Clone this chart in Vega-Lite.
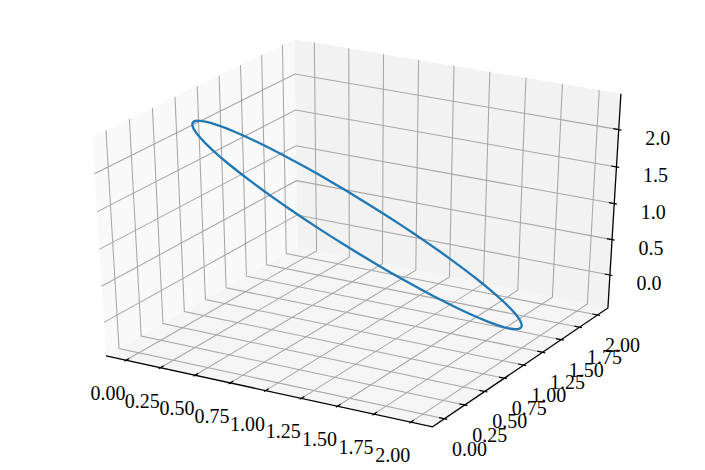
{
  "$schema": "https://vega.github.io/schema/vega-lite/v6.json",
  "width": 705,
  "height": 470,
  "padding": 0,
  "autosize": {"type": "none"},
  "background": "white",
  "config": {"view": {"stroke": null}},
  "data": {"values": [
    {"k":"pz","o":0,"x":-0.1458,"y":-0.1458,"z":-0.4731},{"k":"pz","o":1,"x":2.1458,"y":-0.1458,"z":-0.4731},{"k":"pz","o":2,"x":2.1458,"y":2.1458,"z":-0.4731},{"k":"pz","o":3,"x":-0.1458,"y":2.1458,"z":-0.4731},
    {"k":"px","o":0,"x":-0.1458,"y":-0.1458,"z":-0.4731},{"k":"px","o":1,"x":-0.1458,"y":2.1458,"z":-0.4731},{"k":"px","o":2,"x":-0.1458,"y":2.1458,"z":2.4731},{"k":"px","o":3,"x":-0.1458,"y":-0.1458,"z":2.4731},
    {"k":"py","o":0,"x":-0.1458,"y":2.1458,"z":-0.4731},{"k":"py","o":1,"x":2.1458,"y":2.1458,"z":-0.4731},{"k":"py","o":2,"x":2.1458,"y":2.1458,"z":2.4731},{"k":"py","o":3,"x":-0.1458,"y":2.1458,"z":2.4731},

    {"k":"g","g":"gx0","o":0,"x":0,"y":-0.1458,"z":-0.4731},{"k":"g","g":"gx0","o":1,"x":0,"y":2.1458,"z":-0.4731},{"k":"g","g":"gx0","o":2,"x":0,"y":2.1458,"z":2.4731},
    {"k":"g","g":"gx1","o":0,"x":0.25,"y":-0.1458,"z":-0.4731},{"k":"g","g":"gx1","o":1,"x":0.25,"y":2.1458,"z":-0.4731},{"k":"g","g":"gx1","o":2,"x":0.25,"y":2.1458,"z":2.4731},
    {"k":"g","g":"gx2","o":0,"x":0.5,"y":-0.1458,"z":-0.4731},{"k":"g","g":"gx2","o":1,"x":0.5,"y":2.1458,"z":-0.4731},{"k":"g","g":"gx2","o":2,"x":0.5,"y":2.1458,"z":2.4731},
    {"k":"g","g":"gx3","o":0,"x":0.75,"y":-0.1458,"z":-0.4731},{"k":"g","g":"gx3","o":1,"x":0.75,"y":2.1458,"z":-0.4731},{"k":"g","g":"gx3","o":2,"x":0.75,"y":2.1458,"z":2.4731},
    {"k":"g","g":"gx4","o":0,"x":1,"y":-0.1458,"z":-0.4731},{"k":"g","g":"gx4","o":1,"x":1,"y":2.1458,"z":-0.4731},{"k":"g","g":"gx4","o":2,"x":1,"y":2.1458,"z":2.4731},
    {"k":"g","g":"gx5","o":0,"x":1.25,"y":-0.1458,"z":-0.4731},{"k":"g","g":"gx5","o":1,"x":1.25,"y":2.1458,"z":-0.4731},{"k":"g","g":"gx5","o":2,"x":1.25,"y":2.1458,"z":2.4731},
    {"k":"g","g":"gx6","o":0,"x":1.5,"y":-0.1458,"z":-0.4731},{"k":"g","g":"gx6","o":1,"x":1.5,"y":2.1458,"z":-0.4731},{"k":"g","g":"gx6","o":2,"x":1.5,"y":2.1458,"z":2.4731},
    {"k":"g","g":"gx7","o":0,"x":1.75,"y":-0.1458,"z":-0.4731},{"k":"g","g":"gx7","o":1,"x":1.75,"y":2.1458,"z":-0.4731},{"k":"g","g":"gx7","o":2,"x":1.75,"y":2.1458,"z":2.4731},
    {"k":"g","g":"gx8","o":0,"x":2,"y":-0.1458,"z":-0.4731},{"k":"g","g":"gx8","o":1,"x":2,"y":2.1458,"z":-0.4731},{"k":"g","g":"gx8","o":2,"x":2,"y":2.1458,"z":2.4731},

    {"k":"g","g":"gy0","o":0,"x":2.1458,"y":0,"z":-0.4731},{"k":"g","g":"gy0","o":1,"x":-0.1458,"y":0,"z":-0.4731},{"k":"g","g":"gy0","o":2,"x":-0.1458,"y":0,"z":2.4731},
    {"k":"g","g":"gy1","o":0,"x":2.1458,"y":0.25,"z":-0.4731},{"k":"g","g":"gy1","o":1,"x":-0.1458,"y":0.25,"z":-0.4731},{"k":"g","g":"gy1","o":2,"x":-0.1458,"y":0.25,"z":2.4731},
    {"k":"g","g":"gy2","o":0,"x":2.1458,"y":0.5,"z":-0.4731},{"k":"g","g":"gy2","o":1,"x":-0.1458,"y":0.5,"z":-0.4731},{"k":"g","g":"gy2","o":2,"x":-0.1458,"y":0.5,"z":2.4731},
    {"k":"g","g":"gy3","o":0,"x":2.1458,"y":0.75,"z":-0.4731},{"k":"g","g":"gy3","o":1,"x":-0.1458,"y":0.75,"z":-0.4731},{"k":"g","g":"gy3","o":2,"x":-0.1458,"y":0.75,"z":2.4731},
    {"k":"g","g":"gy4","o":0,"x":2.1458,"y":1,"z":-0.4731},{"k":"g","g":"gy4","o":1,"x":-0.1458,"y":1,"z":-0.4731},{"k":"g","g":"gy4","o":2,"x":-0.1458,"y":1,"z":2.4731},
    {"k":"g","g":"gy5","o":0,"x":2.1458,"y":1.25,"z":-0.4731},{"k":"g","g":"gy5","o":1,"x":-0.1458,"y":1.25,"z":-0.4731},{"k":"g","g":"gy5","o":2,"x":-0.1458,"y":1.25,"z":2.4731},
    {"k":"g","g":"gy6","o":0,"x":2.1458,"y":1.5,"z":-0.4731},{"k":"g","g":"gy6","o":1,"x":-0.1458,"y":1.5,"z":-0.4731},{"k":"g","g":"gy6","o":2,"x":-0.1458,"y":1.5,"z":2.4731},
    {"k":"g","g":"gy7","o":0,"x":2.1458,"y":1.75,"z":-0.4731},{"k":"g","g":"gy7","o":1,"x":-0.1458,"y":1.75,"z":-0.4731},{"k":"g","g":"gy7","o":2,"x":-0.1458,"y":1.75,"z":2.4731},
    {"k":"g","g":"gy8","o":0,"x":2.1458,"y":2,"z":-0.4731},{"k":"g","g":"gy8","o":1,"x":-0.1458,"y":2,"z":-0.4731},{"k":"g","g":"gy8","o":2,"x":-0.1458,"y":2,"z":2.4731},

    {"k":"g","g":"gz0","o":0,"x":-0.1458,"y":-0.1458,"z":0},{"k":"g","g":"gz0","o":1,"x":-0.1458,"y":2.1458,"z":0},{"k":"g","g":"gz0","o":2,"x":2.1458,"y":2.1458,"z":0},
    {"k":"g","g":"gz1","o":0,"x":-0.1458,"y":-0.1458,"z":0.5},{"k":"g","g":"gz1","o":1,"x":-0.1458,"y":2.1458,"z":0.5},{"k":"g","g":"gz1","o":2,"x":2.1458,"y":2.1458,"z":0.5},
    {"k":"g","g":"gz2","o":0,"x":-0.1458,"y":-0.1458,"z":1},{"k":"g","g":"gz2","o":1,"x":-0.1458,"y":2.1458,"z":1},{"k":"g","g":"gz2","o":2,"x":2.1458,"y":2.1458,"z":1},
    {"k":"g","g":"gz3","o":0,"x":-0.1458,"y":-0.1458,"z":1.5},{"k":"g","g":"gz3","o":1,"x":-0.1458,"y":2.1458,"z":1.5},{"k":"g","g":"gz3","o":2,"x":2.1458,"y":2.1458,"z":1.5},
    {"k":"g","g":"gz4","o":0,"x":-0.1458,"y":-0.1458,"z":2},{"k":"g","g":"gz4","o":1,"x":-0.1458,"y":2.1458,"z":2},{"k":"g","g":"gz4","o":2,"x":2.1458,"y":2.1458,"z":2},

    {"k":"a","o":0,"x":-0.1458,"y":-0.1458,"z":-0.4731},{"k":"a","o":1,"x":2.1458,"y":-0.1458,"z":-0.4731},{"k":"a","o":2,"x":2.1458,"y":2.1458,"z":-0.4731},{"k":"a","o":3,"x":2.1458,"y":2.1458,"z":2.4731},

    {"k":"t","g":"tx0","o":0,"x":0,"y":-0.1641,"z":-0.4731},{"k":"t","g":"tx0","o":1,"x":0,"y":-0.1091,"z":-0.4731},
    {"k":"t","g":"tx1","o":0,"x":0.25,"y":-0.1641,"z":-0.4731},{"k":"t","g":"tx1","o":1,"x":0.25,"y":-0.1091,"z":-0.4731},
    {"k":"t","g":"tx2","o":0,"x":0.5,"y":-0.1641,"z":-0.4731},{"k":"t","g":"tx2","o":1,"x":0.5,"y":-0.1091,"z":-0.4731},
    {"k":"t","g":"tx3","o":0,"x":0.75,"y":-0.1641,"z":-0.4731},{"k":"t","g":"tx3","o":1,"x":0.75,"y":-0.1091,"z":-0.4731},
    {"k":"t","g":"tx4","o":0,"x":1,"y":-0.1641,"z":-0.4731},{"k":"t","g":"tx4","o":1,"x":1,"y":-0.1091,"z":-0.4731},
    {"k":"t","g":"tx5","o":0,"x":1.25,"y":-0.1641,"z":-0.4731},{"k":"t","g":"tx5","o":1,"x":1.25,"y":-0.1091,"z":-0.4731},
    {"k":"t","g":"tx6","o":0,"x":1.5,"y":-0.1641,"z":-0.4731},{"k":"t","g":"tx6","o":1,"x":1.5,"y":-0.1091,"z":-0.4731},
    {"k":"t","g":"tx7","o":0,"x":1.75,"y":-0.1641,"z":-0.4731},{"k":"t","g":"tx7","o":1,"x":1.75,"y":-0.1091,"z":-0.4731},
    {"k":"t","g":"tx8","o":0,"x":2,"y":-0.1641,"z":-0.4731},{"k":"t","g":"tx8","o":1,"x":2,"y":-0.1091,"z":-0.4731},
    {"k":"t","g":"ty0","o":0,"x":2.1641,"y":0,"z":-0.4731},{"k":"t","g":"ty0","o":1,"x":2.1091,"y":0,"z":-0.4731},
    {"k":"t","g":"ty1","o":0,"x":2.1641,"y":0.25,"z":-0.4731},{"k":"t","g":"ty1","o":1,"x":2.1091,"y":0.25,"z":-0.4731},
    {"k":"t","g":"ty2","o":0,"x":2.1641,"y":0.5,"z":-0.4731},{"k":"t","g":"ty2","o":1,"x":2.1091,"y":0.5,"z":-0.4731},
    {"k":"t","g":"ty3","o":0,"x":2.1641,"y":0.75,"z":-0.4731},{"k":"t","g":"ty3","o":1,"x":2.1091,"y":0.75,"z":-0.4731},
    {"k":"t","g":"ty4","o":0,"x":2.1641,"y":1,"z":-0.4731},{"k":"t","g":"ty4","o":1,"x":2.1091,"y":1,"z":-0.4731},
    {"k":"t","g":"ty5","o":0,"x":2.1641,"y":1.25,"z":-0.4731},{"k":"t","g":"ty5","o":1,"x":2.1091,"y":1.25,"z":-0.4731},
    {"k":"t","g":"ty6","o":0,"x":2.1641,"y":1.5,"z":-0.4731},{"k":"t","g":"ty6","o":1,"x":2.1091,"y":1.5,"z":-0.4731},
    {"k":"t","g":"ty7","o":0,"x":2.1641,"y":1.75,"z":-0.4731},{"k":"t","g":"ty7","o":1,"x":2.1091,"y":1.75,"z":-0.4731},
    {"k":"t","g":"ty8","o":0,"x":2.1641,"y":2,"z":-0.4731},{"k":"t","g":"ty8","o":1,"x":2.1091,"y":2,"z":-0.4731},
    {"k":"t","g":"tz0","o":0,"x":2.1641,"y":2.1458,"z":0},{"k":"t","g":"tz0","o":1,"x":2.1091,"y":2.1458,"z":0},
    {"k":"t","g":"tz1","o":0,"x":2.1641,"y":2.1458,"z":0.5},{"k":"t","g":"tz1","o":1,"x":2.1091,"y":2.1458,"z":0.5},
    {"k":"t","g":"tz2","o":0,"x":2.1641,"y":2.1458,"z":1},{"k":"t","g":"tz2","o":1,"x":2.1091,"y":2.1458,"z":1},
    {"k":"t","g":"tz3","o":0,"x":2.1641,"y":2.1458,"z":1.5},{"k":"t","g":"tz3","o":1,"x":2.1091,"y":2.1458,"z":1.5},
    {"k":"t","g":"tz4","o":0,"x":2.1641,"y":2.1458,"z":2},{"k":"t","g":"tz4","o":1,"x":2.1091,"y":2.1458,"z":2},

    {"k":"lx","x":0,"y":-0.1458,"z":-0.4731,"s":"0.00"},{"k":"lx","x":0.25,"y":-0.1458,"z":-0.4731,"s":"0.25"},{"k":"lx","x":0.5,"y":-0.1458,"z":-0.4731,"s":"0.50"},{"k":"lx","x":0.75,"y":-0.1458,"z":-0.4731,"s":"0.75"},{"k":"lx","x":1,"y":-0.1458,"z":-0.4731,"s":"1.00"},{"k":"lx","x":1.25,"y":-0.1458,"z":-0.4731,"s":"1.25"},{"k":"lx","x":1.5,"y":-0.1458,"z":-0.4731,"s":"1.50"},{"k":"lx","x":1.75,"y":-0.1458,"z":-0.4731,"s":"1.75"},{"k":"lx","x":2,"y":-0.1458,"z":-0.4731,"s":"2.00"},
    {"k":"ly","x":2.1458,"y":0,"z":-0.4731,"s":"0.00"},{"k":"ly","x":2.1458,"y":0.25,"z":-0.4731,"s":"0.25"},{"k":"ly","x":2.1458,"y":0.5,"z":-0.4731,"s":"0.50"},{"k":"ly","x":2.1458,"y":0.75,"z":-0.4731,"s":"0.75"},{"k":"ly","x":2.1458,"y":1,"z":-0.4731,"s":"1.00"},{"k":"ly","x":2.1458,"y":1.25,"z":-0.4731,"s":"1.25"},{"k":"ly","x":2.1458,"y":1.5,"z":-0.4731,"s":"1.50"},{"k":"ly","x":2.1458,"y":1.75,"z":-0.4731,"s":"1.75"},{"k":"ly","x":2.1458,"y":2,"z":-0.4731,"s":"2.00"},
    {"k":"lz","x":2.1458,"y":2.1458,"z":0,"s":"0.0"},{"k":"lz","x":2.1458,"y":2.1458,"z":0.5,"s":"0.5"},{"k":"lz","x":2.1458,"y":2.1458,"z":1,"s":"1.0"},{"k":"lz","x":2.1458,"y":2.1458,"z":1.5,"s":"1.5"},{"k":"lz","x":2.1458,"y":2.1458,"z":2,"s":"2.0"},

    {"k":"c","o":0,"x":2,"y":1,"z":0},{"k":"c","o":1,"x":1.9962,"y":1.0872,"z":-0.0834},{"k":"c","o":2,"x":1.9848,"y":1.1736,"z":-0.1584},{"k":"c","o":3,"x":1.9659,"y":1.2588,"z":-0.2247},{"k":"c","o":4,"x":1.9397,"y":1.342,"z":-0.2817},{"k":"c","o":5,"x":1.9063,"y":1.4226,"z":-0.3289},{"k":"c","o":6,"x":1.866,"y":1.5,"z":-0.366},{"k":"c","o":7,"x":1.8192,"y":1.5736,"z":-0.3928},{"k":"c","o":8,"x":1.766,"y":1.6428,"z":-0.4088},{"k":"c","o":9,"x":1.7071,"y":1.7071,"z":-0.4142},
    {"k":"c","o":10,"x":1.6428,"y":1.766,"z":-0.4088},{"k":"c","o":11,"x":1.5736,"y":1.8192,"z":-0.3928},{"k":"c","o":12,"x":1.5,"y":1.866,"z":-0.366},{"k":"c","o":13,"x":1.4226,"y":1.9063,"z":-0.3289},{"k":"c","o":14,"x":1.342,"y":1.9397,"z":-0.2817},{"k":"c","o":15,"x":1.2588,"y":1.9659,"z":-0.2247},{"k":"c","o":16,"x":1.1736,"y":1.9848,"z":-0.1584},{"k":"c","o":17,"x":1.0872,"y":1.9962,"z":-0.0834},{"k":"c","o":18,"x":1,"y":2,"z":0},
    {"k":"c","o":19,"x":0.9128,"y":1.9962,"z":0.091},{"k":"c","o":20,"x":0.8264,"y":1.9848,"z":0.1888},{"k":"c","o":21,"x":0.7412,"y":1.9659,"z":0.2929},{"k":"c","o":22,"x":0.658,"y":1.9397,"z":0.4023},{"k":"c","o":23,"x":0.5774,"y":1.9063,"z":0.5163},{"k":"c","o":24,"x":0.5,"y":1.866,"z":0.634},{"k":"c","o":25,"x":0.4264,"y":1.8192,"z":0.7544},{"k":"c","o":26,"x":0.3572,"y":1.766,"z":0.8768},{"k":"c","o":27,"x":0.2929,"y":1.7071,"z":1},
    {"k":"c","o":28,"x":0.234,"y":1.6428,"z":1.1232},{"k":"c","o":29,"x":0.1808,"y":1.5736,"z":1.2456},{"k":"c","o":30,"x":0.134,"y":1.5,"z":1.366},{"k":"c","o":31,"x":0.0937,"y":1.4226,"z":1.4837},{"k":"c","o":32,"x":0.0603,"y":1.342,"z":1.5977},{"k":"c","o":33,"x":0.0341,"y":1.2588,"z":1.7071},{"k":"c","o":34,"x":0.0152,"y":1.1736,"z":1.8112},{"k":"c","o":35,"x":0.0038,"y":1.0872,"z":1.909},{"k":"c","o":36,"x":0,"y":1,"z":2},
    {"k":"c","o":37,"x":0.0038,"y":0.9128,"z":2.0834},{"k":"c","o":38,"x":0.0152,"y":0.8264,"z":2.1584},{"k":"c","o":39,"x":0.0341,"y":0.7412,"z":2.2247},{"k":"c","o":40,"x":0.0603,"y":0.658,"z":2.2817},{"k":"c","o":41,"x":0.0937,"y":0.5774,"z":2.3289},{"k":"c","o":42,"x":0.134,"y":0.5,"z":2.366},{"k":"c","o":43,"x":0.1808,"y":0.4264,"z":2.3928},{"k":"c","o":44,"x":0.234,"y":0.3572,"z":2.4088},{"k":"c","o":45,"x":0.2929,"y":0.2929,"z":2.4142},
    {"k":"c","o":46,"x":0.3572,"y":0.234,"z":2.4088},{"k":"c","o":47,"x":0.4264,"y":0.1808,"z":2.3928},{"k":"c","o":48,"x":0.5,"y":0.134,"z":2.366},{"k":"c","o":49,"x":0.5774,"y":0.0937,"z":2.3289},{"k":"c","o":50,"x":0.658,"y":0.0603,"z":2.2817},{"k":"c","o":51,"x":0.7412,"y":0.0341,"z":2.2247},{"k":"c","o":52,"x":0.8264,"y":0.0152,"z":2.1584},{"k":"c","o":53,"x":0.9128,"y":0.0038,"z":2.0834},{"k":"c","o":54,"x":1,"y":0,"z":2},
    {"k":"c","o":55,"x":1.0872,"y":0.0038,"z":1.909},{"k":"c","o":56,"x":1.1736,"y":0.0152,"z":1.8112},{"k":"c","o":57,"x":1.2588,"y":0.0341,"z":1.7071},{"k":"c","o":58,"x":1.342,"y":0.0603,"z":1.5977},{"k":"c","o":59,"x":1.4226,"y":0.0937,"z":1.4837},{"k":"c","o":60,"x":1.5,"y":0.134,"z":1.366},{"k":"c","o":61,"x":1.5736,"y":0.1808,"z":1.2456},{"k":"c","o":62,"x":1.6428,"y":0.234,"z":1.1232},{"k":"c","o":63,"x":1.7071,"y":0.2929,"z":1},
    {"k":"c","o":64,"x":1.766,"y":0.3572,"z":0.8768},{"k":"c","o":65,"x":1.8192,"y":0.4264,"z":0.7544},{"k":"c","o":66,"x":1.866,"y":0.5,"z":0.634},{"k":"c","o":67,"x":1.9063,"y":0.5774,"z":0.5163},{"k":"c","o":68,"x":1.9397,"y":0.658,"z":0.4023},{"k":"c","o":69,"x":1.9659,"y":0.7412,"z":0.2929},{"k":"c","o":70,"x":1.9848,"y":0.8264,"z":0.1888},{"k":"c","o":71,"x":1.9962,"y":0.9128,"z":0.091},{"k":"c","o":72,"x":2,"y":1,"z":0}
  ]},
  "transform": [
    {"calculate": "(datum.x - 1) / 2.2", "as": "dx"},
    {"calculate": "(datum.y - 1) / 2.2", "as": "dy"},
    {"calculate": "(datum.z - 1) / 2.8284", "as": "dz"},
    {"calculate": "10 - (0.4330127 * datum.dx - 0.75 * datum.dy + 0.5 * datum.dz)", "as": "den"},
    {"calculate": "(0.8660254 * datum.dx + 0.5 * datum.dy) / datum.den", "as": "sx"},
    {"calculate": "(-0.25 * datum.dx + 0.4330127 * datum.dy + 0.8660254 * datum.dz) / datum.den", "as": "sy"}
  ],
  "encoding": {
    "x": {"field": "sx", "type": "quantitative", "scale": {"domain": [-0.09977, 0.09507], "nice": false, "zero": false}, "axis": null},
    "y": {"field": "sy", "type": "quantitative", "scale": {"domain": [-0.10163, 0.09421], "nice": false, "zero": false}, "axis": null}
  },
  "layer": [
    {"transform": [{"filter": "datum.k == 'pz'"}], "mark": {"type": "line", "interpolate": "linear-closed", "fill": "#f5f5f5", "stroke": "transparent", "strokeWidth": 0}, "encoding": {"order": {"field": "o", "type": "quantitative"}}},
    {"transform": [{"filter": "datum.k == 'px'"}], "mark": {"type": "line", "interpolate": "linear-closed", "fill": "#f9f9f9", "stroke": "transparent", "strokeWidth": 0}, "encoding": {"order": {"field": "o", "type": "quantitative"}}},
    {"transform": [{"filter": "datum.k == 'py'"}], "mark": {"type": "line", "interpolate": "linear-closed", "fill": "#f2f2f2", "stroke": "transparent", "strokeWidth": 0}, "encoding": {"order": {"field": "o", "type": "quantitative"}}},
    {"transform": [{"filter": "datum.k == 'g'"}], "mark": {"type": "line", "color": "#a6a6a6", "strokeWidth": 1.05}, "encoding": {"detail": {"field": "g"}, "order": {"field": "o", "type": "quantitative"}}},
    {"transform": [{"filter": "datum.k == 'a'"}], "mark": {"type": "line", "color": "black", "strokeWidth": 1.3}, "encoding": {"order": {"field": "o", "type": "quantitative"}}},
    {"transform": [{"filter": "datum.k == 't'"}], "mark": {"type": "line", "color": "black", "strokeWidth": 1.2}, "encoding": {"detail": {"field": "g"}, "order": {"field": "o", "type": "quantitative"}}},
    {"transform": [{"filter": "datum.k == 'c'"}], "mark": {"type": "line", "color": "#1f77b4", "strokeWidth": 2.3}, "encoding": {"order": {"field": "o", "type": "quantitative"}}},
    {"transform": [{"filter": "datum.k == 'lx'"}], "mark": {"type": "text", "font": "Liberation Serif", "fontSize": 20, "color": "black", "align": "center", "baseline": "middle", "dx": -18, "dy": 34}, "encoding": {"text": {"field": "s"}}},
    {"transform": [{"filter": "datum.k == 'ly'"}], "mark": {"type": "text", "font": "Liberation Serif", "fontSize": 20, "color": "black", "align": "center", "baseline": "middle", "dx": 25, "dy": 31}, "encoding": {"text": {"field": "s"}}},
    {"transform": [{"filter": "datum.k == 'lz'"}], "mark": {"type": "text", "font": "Liberation Serif", "fontSize": 20, "color": "black", "align": "center", "baseline": "middle", "dx": 39, "dy": 9}, "encoding": {"text": {"field": "s"}}}
  ]
}
